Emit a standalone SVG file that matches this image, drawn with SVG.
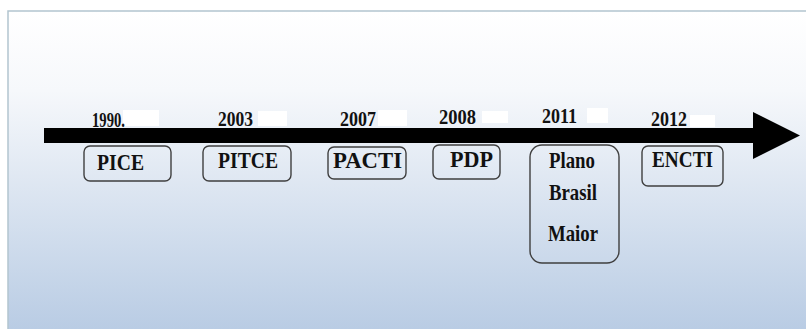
<svg xmlns="http://www.w3.org/2000/svg" width="806" height="329" viewBox="0 0 806 329">
<defs>
<linearGradient id="bg" x1="0" y1="0" x2="0" y2="1">
<stop offset="0" stop-color="#ffffff"/>
<stop offset="0.25" stop-color="#f6f8fb"/>
<stop offset="1" stop-color="#b9cce4"/>
</linearGradient>
</defs>
<style>
.box{fill:none;stroke:#3f3f3f;stroke-width:1.4}
.mask{fill:#ffffff}
</style>
<rect x="0" y="0" width="806" height="329" fill="#ffffff"/>
<rect x="8" y="11" width="798" height="318" fill="url(#bg)"/>
<path d="M8 329 V11 H806" fill="none" stroke="#b3c5cf" stroke-width="1.5"/>
<g id="connectors">
<rect x="44" y="128" width="712" height="15" fill="#000"/>
<polygon points="753,112 800,135.5 753,159" fill="#000"/>
</g>
<g id="masks">
<rect class="mask" x="123" y="110" width="36" height="16"/>
<rect class="mask" x="258" y="111" width="29" height="15"/>
<rect class="mask" x="378" y="110" width="29" height="16"/>
<rect class="mask" x="482" y="111" width="26" height="12"/>
<rect class="mask" x="587" y="108" width="21" height="15"/>
<rect class="mask" x="690" y="115" width="25" height="12"/>
</g>
<g id="years" font-family="'Liberation Serif', 'Times New Roman', serif" font-weight="bold" font-size="21" fill="#111">
<text x="92" y="127" textLength="33" lengthAdjust="spacingAndGlyphs">1990.</text>
<text x="218" y="126" textLength="35" lengthAdjust="spacingAndGlyphs">2003</text>
<text x="340" y="126" textLength="36" lengthAdjust="spacingAndGlyphs">2007</text>
<text x="439" y="124" textLength="37" lengthAdjust="spacingAndGlyphs">2008</text>
<text x="542" y="123" textLength="35" lengthAdjust="spacingAndGlyphs">2011</text>
<text x="651" y="126" textLength="36" lengthAdjust="spacingAndGlyphs">2012</text>
</g>
<g font-family="'Liberation Serif', 'Times New Roman', serif" font-weight="bold" font-size="24" fill="#111">
<g id="node-pice">
<rect class="box" x="84" y="146" width="87" height="35" rx="6"/>
<text x="97" y="170" textLength="47" lengthAdjust="spacingAndGlyphs">PICE</text>
</g>
<g id="node-pitce">
<rect class="box" x="203" y="146" width="88" height="35" rx="6"/>
<text x="218" y="168" textLength="60" lengthAdjust="spacingAndGlyphs">PITCE</text>
</g>
<g id="node-pacti">
<rect class="box" x="328" y="147" width="78" height="32" rx="6"/>
<text x="333" y="168" textLength="69" lengthAdjust="spacingAndGlyphs">PACTI</text>
</g>
<g id="node-pdp">
<rect class="box" x="433" y="145" width="67" height="34" rx="6"/>
<text x="450" y="167" textLength="43" lengthAdjust="spacingAndGlyphs">PDP</text>
</g>
<g id="node-pbm">
<rect class="box" x="530" y="145" width="89" height="118" rx="12"/>
<text x="549" y="168" textLength="46" lengthAdjust="spacingAndGlyphs">Plano</text>
<text x="549" y="200" textLength="48" lengthAdjust="spacingAndGlyphs">Brasil</text>
<text x="548" y="241" textLength="50" lengthAdjust="spacingAndGlyphs">Maior</text>
</g>
<g id="node-encti">
<rect class="box" x="642" y="146" width="81" height="40" rx="6"/>
<text x="652" y="167" textLength="61" lengthAdjust="spacingAndGlyphs">ENCTI</text>
</g>
</g>
</svg>
